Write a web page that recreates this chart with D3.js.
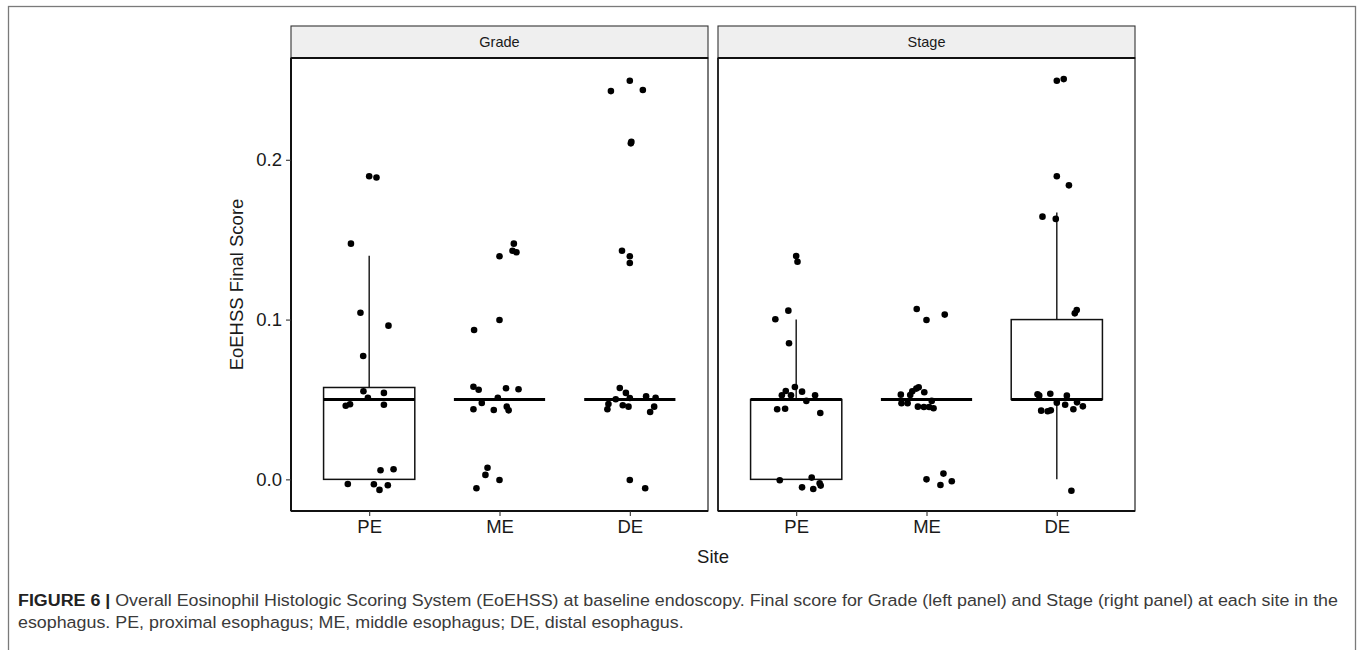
<!DOCTYPE html>
<html>
<head>
<meta charset="utf-8">
<script src="https://cdn.jsdelivr.net/npm/d3@7"></script>
<style>
  html, body { margin: 0; padding: 0; background: #fff; }
  svg { display: block; }
</style>
</head>
<body>
<svg id="chart" width="1358" height="650"></svg>
<script>
// ---------------- DATA ----------------
const panels = ["Grade", "Stage"];
const sites = ["PE", "ME", "DE"];
const yTicks = [0.0, 0.1, 0.2];
const yTickLabels = ["0.0", "0.1", "0.2"];
const yLabel = "EoEHSS Final Score";
const xLabel = "Site";

// box statistics per site (PE, ME, DE)
const gradeQ1 = [0.0, 0.05, 0.05];
const gradeMedian = [0.05, 0.05, 0.05];
const gradeQ3 = [0.0575, 0.05, 0.05];
const gradeWhiskerLow = [0.0, 0.05, 0.05];
const gradeWhiskerHigh = [0.14, 0.05, 0.05];

const stageQ1 = [0.0, 0.05, 0.05];
const stageMedian = [0.05, 0.05, 0.05];
const stageQ3 = [0.05, 0.05, 0.1];
const stageWhiskerLow = [0.0, 0.05, 0.0];
const stageWhiskerHigh = [0.1, 0.05, 0.167];

// jittered points: value (score) and horizontal jitter (fraction of category step)
const gradePEValue  = [0.1897,0.1889,0.1475,0.1043,0.0962,0.0772,0.0551,0.0541,0.0511,0.0467,0.0461,0.047,0.0057,0.0063,-0.0029,-0.0031,-0.0066,-0.0037];
const gradePEJitter = [0.0,0.056,-0.14,-0.067,0.148,-0.046,-0.044,0.113,-0.01,0.113,-0.18,-0.147,0.087,0.187,-0.164,0.036,0.079,0.143];
const gradeMEValue  = [0.1475,0.1431,0.1421,0.1396,0.0935,0.0997,0.058,0.0561,0.057,0.0564,0.0511,0.0478,0.0439,0.0434,0.0455,0.0432,0.0073,0.0028,-0.0004,-0.0056];
const gradeMEJitter = [0.11,0.1,0.13,0.0,-0.195,0.0,-0.2,-0.16,0.05,0.146,-0.013,-0.136,-0.2,-0.044,0.056,0.07,-0.092,-0.108,0.0,-0.177];
const gradeDEValue  = [0.2495,0.243,0.2437,0.2103,0.2113,0.1431,0.1396,0.1354,0.0572,0.0541,0.0501,0.0509,0.052,0.0511,0.0472,0.0439,0.0464,0.0455,0.0455,0.0422,-0.0004,-0.0056];
const gradeDEJitter = [0.0,-0.145,0.1,0.008,0.012,-0.06,0.0,0.0,-0.077,-0.03,-0.108,0.0,0.125,0.198,-0.164,-0.172,-0.054,-0.01,0.187,0.156,0.0,0.118];

const stagePEValue  = [0.1398,0.1362,0.1056,0.1002,0.0852,0.0578,0.0553,0.0549,0.0526,0.0526,0.0526,0.0491,0.0439,0.0442,0.0415,-0.0006,0.0011,-0.005,-0.006,-0.0024,-0.0039];
const stagePEJitter = [0.0,0.01,-0.06,-0.16,-0.055,-0.01,-0.08,0.045,-0.11,-0.04,0.145,0.078,-0.146,-0.085,0.185,-0.126,0.119,0.045,0.131,0.18,0.188];
const stageMEValue  = [0.1066,0.1031,0.0997,0.0576,0.0568,0.0551,0.0545,0.053,0.0528,0.0491,0.0476,0.0476,0.0455,0.0453,0.0453,0.0445,0.0,0.0036,-0.0035,-0.0012];
const stageMEJitter = [-0.075,0.14,0.0,-0.06,-0.078,-0.109,-0.017,-0.197,-0.125,0.04,-0.192,-0.145,-0.066,-0.02,0.02,0.054,0.0,0.13,0.107,0.194];
const stageDEValue  = [0.2495,0.2505,0.1897,0.184,0.1644,0.163,0.106,0.1039,0.0532,0.0524,0.0536,0.0524,0.048,0.0467,0.0482,0.0457,0.043,0.0426,0.0432,0.0439,-0.0071];
const stageDEJitter = [0.0,0.053,0.0,0.093,-0.11,-0.008,0.153,0.138,-0.148,-0.135,-0.05,0.077,0.0,0.064,0.155,0.2,-0.12,-0.07,-0.046,0.127,0.112];

const captionBold = "FIGURE 6 |";
const captionLine1 = " Overall Eosinophil Histologic Scoring System (EoEHSS) at baseline endoscopy. Final score for Grade (left panel) and Stage (right panel) at each site in the";
const captionLine2 = "esophagus. PE, proximal esophagus; ME, middle esophagus; DE, distal esophagus.";

// ---------------- BUILD ----------------
const panelData = [
  { name: panels[0], q1: gradeQ1, med: gradeMedian, q3: gradeQ3, wlo: gradeWhiskerLow, whi: gradeWhiskerHigh,
    values: [gradePEValue, gradeMEValue, gradeDEValue], jitter: [gradePEJitter, gradeMEJitter, gradeDEJitter] },
  { name: panels[1], q1: stageQ1, med: stageMedian, q3: stageQ3, wlo: stageWhiskerLow, whi: stageWhiskerHigh,
    values: [stagePEValue, stageMEValue, stageDEValue], jitter: [stagePEJitter, stageMEJitter, stageDEJitter] }
];

const svg = d3.select("#chart");
const FONT = "'Liberation Sans', Arial, Helvetica, sans-serif";

// outer frame
svg.append("rect")
  .attr("x", 8.5).attr("y", 6.5).attr("width", 1347).attr("height", 700)
  .attr("fill", "none").attr("stroke", "#7a7a7a").attr("stroke-width", 1.3);

const panelLefts = [291, 718];
const panelW = 417;
const plotTop = 58, plotBottom = 511;
const stripTop = 26;

const y = d3.scaleLinear().domain([-0.0198, 0.2637]).range([plotBottom, plotTop]);

panelData.forEach((p, pi) => {
  const x0 = panelLefts[pi];
  const g = svg.append("g").attr("transform", `translate(${x0},0)`);
  const x = d3.scalePoint().domain(sites).range([0, panelW]).padding(0.6);
  const step = x.step();
  const bw = 0.7 * step;

  // strip
  g.append("rect").attr("x", 0).attr("y", stripTop).attr("width", panelW).attr("height", plotTop - stripTop)
    .attr("fill", "#efefef").attr("stroke", "#333").attr("stroke-width", 1.1);
  g.append("text").attr("x", panelW / 2).attr("y", (stripTop + plotTop) / 2 + 5)
    .attr("text-anchor", "middle").attr("font-family", FONT).attr("font-size", 14.5)
    .attr("fill", "#1a1a1a").text(p.name);

  // panel background & border
  g.append("rect").attr("x", 0).attr("y", plotTop).attr("width", panelW).attr("height", plotBottom - plotTop)
    .attr("fill", "#fff").attr("stroke", "#222").attr("stroke-width", 1.2);
  g.append("line").attr("x1", 0).attr("x2", panelW).attr("y1", plotTop).attr("y2", plotTop)
    .attr("stroke", "#111").attr("stroke-width", 2);

  // boxes
  sites.forEach((s, i) => {
    const cx = x(s);
    const bg = g.append("g");
    bg.append("line").attr("x1", cx).attr("x2", cx).attr("y1", y(p.q3[i])).attr("y2", y(p.whi[i]))
      .attr("stroke", "#111").attr("stroke-width", 1.4);
    bg.append("line").attr("x1", cx).attr("x2", cx).attr("y1", y(p.q1[i])).attr("y2", y(p.wlo[i]))
      .attr("stroke", "#111").attr("stroke-width", 1.4);
    bg.append("rect").attr("x", cx - bw / 2).attr("width", bw)
      .attr("y", y(p.q3[i])).attr("height", Math.max(0, y(p.q1[i]) - y(p.q3[i])))
      .attr("fill", "#fff").attr("stroke", "#111").attr("stroke-width", 1.5);
    bg.append("line").attr("x1", cx - bw / 2).attr("x2", cx + bw / 2)
      .attr("y1", y(p.med[i])).attr("y2", y(p.med[i]))
      .attr("stroke", "#000").attr("stroke-width", 3);
  });

  // points
  sites.forEach((s, i) => {
    const pts = p.values[i].map((v, k) => ({ v, j: p.jitter[i][k] }));
    g.append("g").selectAll("circle").data(pts).join("circle")
      .attr("cx", d => x(s) + d.j * step)
      .attr("cy", d => y(d.v))
      .attr("r", 3.3)
      .attr("fill", "#000");
  });

  // x axis
  const xa = g.append("g").attr("transform", `translate(0,${plotBottom})`)
    .call(d3.axisBottom(x).tickSize(5).tickPadding(4));
  xa.select(".domain").attr("stroke", "#111").attr("stroke-width", 2).attr("d", `M0,0H${panelW}`);
  xa.selectAll(".tick line").attr("stroke", "#333").attr("stroke-width", 1.1);
  xa.selectAll(".tick text").attr("font-family", FONT).attr("font-size", 18.5).attr("fill", "#1a1a1a");

  if (pi === 0) {
    const ya = g.append("g").call(d3.axisLeft(y).tickValues(yTicks).tickFormat((d, k) => yTickLabels[k]).tickSize(5).tickPadding(4));
    ya.select(".domain").attr("stroke", "#111").attr("stroke-width", 2).attr("d", `M0,${plotTop}V${plotBottom}`);
    ya.selectAll(".tick line").attr("stroke", "#333").attr("stroke-width", 1.1);
    ya.selectAll(".tick text").attr("font-family", FONT).attr("font-size", 18.5).attr("fill", "#1a1a1a");
  } else {
    g.append("line").attr("x1", 0).attr("x2", 0).attr("y1", plotTop).attr("y2", plotBottom)
      .attr("stroke", "#111").attr("stroke-width", 1.5);
  }
});

// axis titles
svg.append("text")
  .attr("transform", `translate(243,${(plotTop + plotBottom) / 2}) rotate(-90)`)
  .attr("text-anchor", "middle").attr("font-family", FONT).attr("font-size", 18.5)
  .attr("fill", "#1a1a1a").text(yLabel);
svg.append("text")
  .attr("x", (panelLefts[0] + panelLefts[1] + panelW) / 2).attr("y", 563)
  .attr("text-anchor", "middle").attr("font-family", FONT).attr("font-size", 18.5)
  .attr("fill", "#1a1a1a").text(xLabel);

// caption
const CAPFONT = "'Liberation Sans Narrow', 'Liberation Sans', Arial, sans-serif";
const cap1 = svg.append("text").attr("x", 0).attr("y", 0)
  .attr("font-family", CAPFONT).attr("font-size", 17).attr("fill", "#3a3a3a");
cap1.append("tspan").attr("font-weight", "bold").attr("fill", "#222").text(captionBold);
cap1.append("tspan").text(captionLine1);
const cap2 = svg.append("text").attr("x", 0).attr("y", 0)
  .attr("font-family", CAPFONT).attr("font-size", 17).attr("fill", "#3a3a3a")
  .text(captionLine2);
const w1 = cap1.node().getComputedTextLength();
const sx = (1339 - 18) / w1;
cap1.attr("transform", `translate(18,606) scale(${sx},1)`);
cap2.attr("transform", `translate(18,628) scale(${sx},1)`);
</script>
</body>
</html>
